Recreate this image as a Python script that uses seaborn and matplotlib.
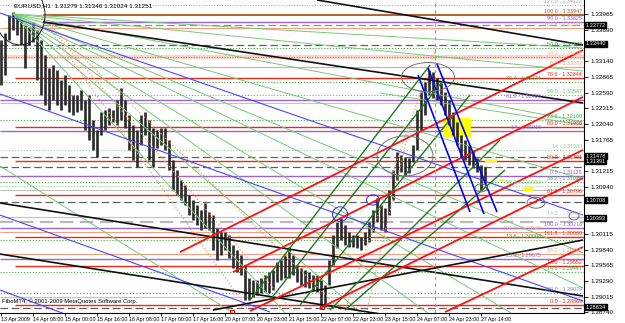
import numpy as np
import pandas as pd
import matplotlib
matplotlib.use("Agg")
import matplotlib.pyplot as plt
import seaborn as sns
from matplotlib.patches import Ellipse, Rectangle

sns.set_theme(style="white")
plt.rcParams['font.family'] = ['Liberation Sans', 'DejaVu Sans']

# ---------------- data ----------------
title_text = "EURUSD,H1  1.31279 1.31346 1.31024 1.31251"
copyright_text = "FiboMT4, \u00a9 2001-2009 MetaQuotes Software Corp."

# one entry per two H1 bars (high / low)
highs = [1.3351, 1.3363, 1.3395, 1.3400, 1.3395, 1.3386, 1.3377, 1.3374, 1.3383, 1.3368,
         1.3351, 1.3325, 1.3302, 1.3307, 1.3298, 1.3281, 1.3290, 1.3272, 1.3255, 1.3255,
         1.3263, 1.3246, 1.3255, 1.3211, 1.3193, 1.3225, 1.3228, 1.3232, 1.3228, 1.3246,
         1.3267, 1.3246, 1.3220, 1.3202, 1.3193, 1.3220, 1.3225, 1.3211, 1.3197, 1.3193,
         1.3197, 1.3197, 1.3176, 1.3141, 1.3123, 1.3106, 1.3097, 1.3080, 1.3071, 1.3062,
         1.3053, 1.3066, 1.3050, 1.3045, 1.3022, 1.3015, 1.3015, 1.3010, 1.2992, 1.2983,
         1.2975, 1.2957, 1.2934, 1.2931, 1.2931, 1.2934, 1.2940, 1.2945, 1.2948, 1.2962,
         1.2966, 1.2975, 1.2989, 1.2975, 1.2957, 1.2952, 1.2948, 1.2945, 1.2940, 1.2940,
         1.2931, 1.2922, 1.2966, 1.3010, 1.3032, 1.3039, 1.3027, 1.3015, 1.3010, 1.3010,
         1.3006, 1.3015, 1.3032, 1.3053, 1.3074, 1.3062, 1.3057, 1.3088, 1.3123, 1.3155,
         1.3150, 1.3146, 1.3144, 1.3167, 1.3228, 1.3260, 1.3277, 1.3298, 1.3295, 1.3284,
         1.3276, 1.3260, 1.3246, 1.3225, 1.3207, 1.3185, 1.3176, 1.3167, 1.3158, 1.3144,
         1.3132, 1.3129]
lows = [1.3272, 1.3290, 1.3351, 1.3368, 1.3360, 1.3342, 1.3302, 1.3342, 1.3347, 1.3281,
        1.3255, 1.3237, 1.3228, 1.3246, 1.3237, 1.3228, 1.3237, 1.3225, 1.3220, 1.3225,
        1.3228, 1.3193, 1.3176, 1.3158, 1.3146, 1.3185, 1.3193, 1.3202, 1.3207, 1.3202,
        1.3211, 1.3197, 1.3158, 1.3141, 1.3129, 1.3167, 1.3185, 1.3141, 1.3129, 1.3162,
        1.3167, 1.3158, 1.3123, 1.3088, 1.3080, 1.3071, 1.3062, 1.3045, 1.3036, 1.3027,
        1.3018, 1.3022, 1.3018, 1.2983, 1.2966, 1.2975, 1.2983, 1.2969, 1.2952, 1.2945,
        1.2940, 1.2896, 1.2896, 1.2901, 1.2905, 1.2908, 1.2910, 1.2908, 1.2913, 1.2927,
        1.2931, 1.2934, 1.2934, 1.2940, 1.2927, 1.2922, 1.2918, 1.2917, 1.2913, 1.2910,
        1.2887, 1.2883, 1.2922, 1.2957, 1.2987, 1.3001, 1.2992, 1.2989, 1.2989, 1.2987,
        1.2983, 1.2992, 1.2997, 1.3015, 1.3032, 1.3018, 1.3015, 1.3045, 1.3071, 1.3106,
        1.3120, 1.3115, 1.3118, 1.3137, 1.3158, 1.3193, 1.3220, 1.3255, 1.3249, 1.3246,
        1.3237, 1.3220, 1.3202, 1.3185, 1.3167, 1.3144, 1.3141, 1.3132, 1.3127, 1.3120,
        1.3088, 1.3101]
bars_per_entry = 2

date_labels = ["13 Apr 2009", "14 Apr 08:00", "15 Apr 00:00", "15 Apr 16:00", "16 Apr 08:00",
               "17 Apr 00:00", "17 Apr 16:00", "20 Apr 07:00", "20 Apr 23:00", "21 Apr 15:00",
               "22 Apr 07:00", "22 Apr 23:00", "23 Apr 15:00", "24 Apr 07:00", "24 Apr 23:00",
               "27 Apr 14:00"]
bars_per_label = 16

price_ticks = [1.33965, 1.33690, 1.33415, 1.33140, 1.32865, 1.32590, 1.32315, 1.32040,
               1.31765, 1.31490, 1.31215, 1.30940, 1.30665, 1.30390, 1.30115, 1.29840,
               1.29565, 1.29290, 1.29015, 1.28740]

# horizontal fibo levels: price, colour, style, width, first bar, fibo text
level_prices = [1.34122, 1.33947, 1.33825, 1.33772, 1.33720, 1.33422, 1.33370, 1.33212,
                1.33037, 1.32844, 1.32774, 1.32547, 1.32459, 1.32407, 1.32109, 1.31986,
                1.31916, 1.31584, 1.31461, 1.31391, 1.31286, 1.31128, 1.31023, 1.30953,
                1.30883, 1.30796, 1.30673, 1.30410, 1.30323, 1.30218, 1.30148, 1.30060,
                1.30008, 1.29762, 1.29675, 1.29552, 1.29447, 1.29079, 1.29009, 1.28869,
                1.28817]
level_colors = ['#a0a0a0', '#b8602a', '#9966cc', '#909090', '#f4a080', '#606060', '#40a840',
                '#f8b8a0', '#f4a080', '#e82818', '#40a840', '#60c060', '#9966cc', '#f4b0a0',
                '#40a840', '#e82818', '#9966cc', '#90d090', '#606060', '#e82818', '#606060',
                '#9966cc', '#40a840', '#90d090', '#c0c0c0', '#e82818', '#606060', '#c0c0c0',
                '#b8b8b8', '#9966cc', '#f4a080', '#e82818', '#40a840', '#f4a080', '#9966cc',
                '#e82818', '#40a840', '#8080e0', '#a0d8a0', '#e82818', '#606060']
level_styles = [':', '-', '-', (0, (6, 3)), '-', (0, (6, 3)), ':', '-',
                '-', '-', ':', ':', '-', '-', ':', '-',
                '-', ':', (0, (6, 3)), '-', (0, (6, 3)), '-', ':', ':',
                '-', '-', (0, (6, 3)), '-', (0, (6, 3)), '-', '-', '-',
                ':', '-', '-', '-', ':', ':', '-', '-',
                (0, (6, 3))]
level_widths = [0.7, 1.4, 1.0, 0.9, 0.8, 0.9, 0.8, 3.0,
                0.8, 1.0, 0.8, 0.8, 1.0, 0.8, 0.8, 1.0,
                1.0, 0.8, 0.9, 1.0, 0.9, 1.0, 0.8, 0.8,
                0.8, 1.0, 0.9, 0.8, 1.6, 1.0, 0.8, 1.0,
                0.8, 0.8, 1.0, 1.0, 0.8, 0.9, 0.8, 1.0,
                0.9]
level_start = [-0.5, 21, 21, 21, -0.5, -0.5, -0.5, -0.5,
               -0.5, 7, -0.5, -0.5, -0.5, -0.5, -0.5, 7,
               -0.5, -0.5, -0.5, 7, -0.5, -0.5, -0.5, -0.5,
               -0.5, 7, -0.5, -0.5, -0.5, -0.5, -0.5, 7,
               -0.5, -0.5, -0.5, 7, -0.5, -0.5, -0.5, 7,
               -0.5]
level_fibo = ["127.0", "100.0", "90.0", None, "161.8", None, "50.0", "38.2",
              "0.0", "78.6", "76.4", "50.0", "61.8", None, "23.6", "80.0",
              "14", "14", None, "80.0", None, "0.0", "38.2", "50.0",
              None, "61.8", None, "14.0", None, "100.0", "127.0", "161.8",
              "13.6", "38.2", "23.6", "14.0", "14.6", "100.0", None, "0.0",
              None]

# trend lines: (bar1, price1, bar2, price2)
black_lines = [(21, 1.33825, 291, 1.32407), (158, 1.34210, 291, 1.33422),
               (-0.5, 1.30656, 291, 1.29027), (-0.5, 1.29762, 199.5, 1.28659),
               (106, 1.28782, 291, 1.30008)]
blue_lines = [(-0.5, 1.33982, 291, 1.30445), (-0.5, 1.32564, 291, 1.28940),
              (-0.5, 1.29132, 32, 1.28712), (-0.5, 1.30445, 134.5, 1.28747)]
blue_channel = [(208.5, 1.32897, 234.5, 1.30498), (213.5, 1.33019, 241.5, 1.30463),
                (218, 1.33089, 248, 1.30498)]
red_lines = [(89.5, 1.29797, 291, 1.33335), (116, 1.29447, 291, 1.32512),
             (124.5, 1.28764, 291, 1.31584), (159.5, 1.28817, 291, 1.31093),
             (222, 1.28747, 291, 1.29885)]
green_lines = [(124.5, 1.28957, 214.5, 1.33072), (134.5, 1.28957, 222, 1.32844),
               (149.5, 1.28869, 234.5, 1.32547), (164.5, 1.28782, 249.5, 1.31759),
               (172, 1.28782, 252, 1.31233)]
fan_lines = [(6, 1.33965, 291, 1.33370), (6, 1.33965, 291, 1.32967),
             (6, 1.33965, 291, 1.32074), (6, 1.33965, 291, 1.31076),
             (6, 1.33965, 291, 1.29780), (6, 1.33965, 291, 1.29167),
             (6, 1.33965, 255, 1.28730), (6, 1.33965, 213.5, 1.28730),
             (6, 1.33965, 180, 1.28730), (6, 1.33965, 142, 1.28730),
             (-0.5, 1.31303, 116, 1.28730), (189.5, 1.32582, 291, 1.32021)]
salmon_lines = [(19.5, 1.33947, 123.5, 1.28782), (19.5, 1.33947, 145.5, 1.28782),
                (19.5, 1.33947, 170, 1.28782), (172, 1.28782, 218, 1.33422),
                (183, 1.28782, 204.5, 1.32021)]
vline_bar = 217

# ellipses: bar, price, width (bars), height (price), colour
ellipses = [(9.5, 1.3395, 25, 0.0105, '#202020'), (213.5, 1.3286, 26.5, 0.0051, '#707070'),
            (202, 1.3148, 28, 0.0070, '#707070'), (240, 1.3092, 6, 0.0014, '#707070'),
            (267.5, 1.3066, 9, 0.0019, '#707070'), (286.5, 1.3043, 5, 0.0014, '#707070'),
            (169.5, 1.3046, 7.5, 0.0026, '#3030ff'), (186, 1.3071, 6.5, 0.0018, '#3030ff')]
# yellow boxes: bar1, bar2, price_low, price_high
yellow_boxes = [(221, 235, 1.3181, 1.3214), (242, 248, 1.3137, 1.3143),
                (249, 251.5, 1.3104, 1.3108), (261, 266, 1.3087, 1.3094)]
red_markers_bar = [115.5, 160.5]
red_markers_price = [1.2876, 1.2883]
# black price boxes on the scale
box_prices = [1.33772, 1.33440, 1.31478, 1.31391, 1.30708, 1.30393, 1.28834]

# ---------------- figure ----------------
W, H = 625, 323
fig = plt.figure(figsize=(W / 100, H / 100), dpi=100)
fig.patch.set_facecolor('white')
ax = fig.add_axes([0, 10 / H, 584 / W, 313 / H])
ax.set_facecolor('white')
ax.set_xlim(-0.5, 291.5)
ax.set_ylim(1.2873, 1.3421)

# horizontal levels
for p, c, s, w, st in zip(level_prices, level_colors, level_styles, level_widths, level_start):
    alpha = 0.6 if w >= 3 else 1.0
    ax.hlines(p, st, 291.5, colors=c, linestyles=s, linewidth=w, alpha=alpha, zorder=1)
# blue dotted inside the salmon band
ax.hlines(level_prices[7], -0.5, 291.5, colors='#7070ff', linestyles=':', linewidth=0.7, zorder=1)

# fibo labels on the right (a label crowding the one above it steps to the left)
prev_p, prev_x = None, None
for p, c, f in zip(level_prices, level_colors, level_fibo):
    if f is None:
        continue
    x_lab = 290.5
    if prev_p is not None and abs(prev_p - p) < 0.0009 and prev_x == 290.5:
        x_lab = 270.0
    ax.text(x_lab, p + 0.00010, f"{f} - {p:.5f}", color=c, fontsize=3.9,
            ha='right', va='bottom', zorder=6)
    prev_p, prev_x = p, x_lab

# yellow boxes
for b1, b2, lo, hi in yellow_boxes:
    ax.add_patch(Rectangle((b1, lo), b2 - b1, hi - lo, facecolor='#ffff00',
                           edgecolor='none', zorder=1.5))

# candles
df = pd.DataFrame({"bar": np.arange(len(highs)) * bars_per_entry, "high": highs, "low": lows})
ax.vlines(df["bar"], df["low"], df["high"], colors='#2a2a2a', linewidth=1.9, zorder=2)


def draw(lines, color, lw, ls='-', z=3):
    for b1, p1, b2, p2 in lines:
        ax.plot([b1, b2], [p1, p2], color=color, lw=lw, ls=ls, zorder=z,
                solid_capstyle='butt')


draw(fan_lines, '#78c878', 0.7)
draw(salmon_lines, '#f49a70', 0.9, ':')
draw(blue_lines, '#4848ff', 0.8)
draw(black_lines, '#101010', 1.2)
draw(green_lines, '#1e7a1e', 1.0)
draw(red_lines, '#ff1010', 1.3)
draw(blue_channel, '#0000ff', 1.2)
ax.axvline(vline_bar, color='#ff8030', lw=0.8, ls=(0, (3, 3)), zorder=3)

for b, p, w, h, c in ellipses:
    ax.add_patch(Ellipse((b, p), w, h, facecolor='none', edgecolor=c, lw=0.7, zorder=4))

sns.scatterplot(x=red_markers_bar, y=red_markers_price, marker='s', s=6, color='none',
                edgecolor='#ff0000', linewidth=0.8, ax=ax, zorder=5, legend=False)

# axes styling
for side in ['top', 'left']:
    ax.spines[side].set_visible(False)
for side in ['right', 'bottom']:
    ax.spines[side].set_color('black')
    ax.spines[side].set_linewidth(0.8)
ax.yaxis.tick_right()
ax.set_yticks(price_ticks)
ax.set_yticklabels([f"{p:.5f}" for p in price_ticks])
ax.set_xticks(np.arange(len(date_labels)) * bars_per_label)
ax.set_xticklabels(date_labels, ha='left')
ax.tick_params(axis='y', which='both', direction='out', length=3, width=0.6, pad=2,
               labelsize=4.6, colors='black', right=True, left=False)
ax.tick_params(axis='x', which='both', direction='out', length=2, width=0.6, pad=1,
               labelsize=3.8, colors='black', bottom=True)
ax.set_xlabel('')
ax.set_ylabel('')
ax.grid(False)

# scale labels hidden beneath a black price box (as on the terminal scale)
for tick_p, lab in zip(price_ticks, ax.get_yticklabels()):
    if any(abs(tick_p - bp) < 0.0007 for bp in box_prices):
        lab.set_visible(False)

for p in box_prices:
    ax.text(292.3, p, f"{p:.5f}", color='white', fontsize=4.0, ha='left', va='center',
            clip_on=False, zorder=10,
            bbox=dict(boxstyle='square,pad=0.12', facecolor='black', edgecolor='black'))

fig.text(14 / W, 1 - 6 / H, title_text, fontsize=4.6, color='black', ha='left', va='center')
ax.text(2 / 584, 1 - 301 / 313, copyright_text, transform=ax.transAxes, fontsize=4.2,
        color='black', ha='left', va='center', zorder=6)

fig.savefig("out.png", dpi=100, facecolor='white')
